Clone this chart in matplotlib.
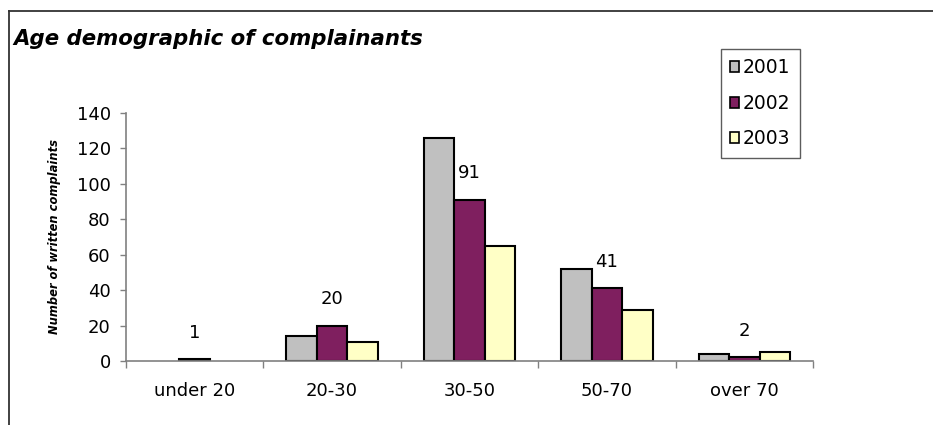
import matplotlib
matplotlib.use("Agg")
import matplotlib.pyplot as plt
from matplotlib.lines import Line2D
from matplotlib.patches import Patch
import numpy as np

# Data
age_groups = ["under 20", "20-30", "30-50", "50-70", "over 70"]
years = ["2001", "2002", "2003"]
complaints_2001 = [0, 14, 126, 52, 4]
complaints_2002 = [1, 20, 91, 41, 2]
complaints_2003 = [0, 11, 65, 29, 5]
series = [complaints_2001, complaints_2002, complaints_2003]
colors = ["#C0C0C0", "#7F1F5F", "#FFFFC6"]

W, H = 933, 425
fig = plt.figure(figsize=(W / 100, H / 100), dpi=100)

# Outer frame (top and left edges)
fig.add_artist(Line2D([9 / W, 1.0], [1 - 10.5 / H, 1 - 10.5 / H],
                      transform=fig.transFigure, color="#333333", lw=1.3))
fig.add_artist(Line2D([9 / W, 9 / W], [1 - 10.5 / H, 0.0],
                      transform=fig.transFigure, color="#333333", lw=1.3))

left, right = 126 / W, 813 / W
bottom, top = 1 - 361 / H, 1 - 113 / H
ax = fig.add_axes([left, bottom, right - left, top - bottom])

x = np.arange(len(age_groups))
width = 1 / 1.5 / 3
for i, (vals, c, yr) in enumerate(zip(series, colors, years)):
    b = ax.bar(x + (i - 1) * width, vals, width, color=c, edgecolor="black",
               linewidth=1.5, label=yr, zorder=3)
    # empty categories get no bar at all
    for patch, v in zip(b.patches, vals):
        if v == 0:
            patch.set_visible(False)

# Value labels above the 2002 bars
for xi, v in zip(x, complaints_2002):
    ax.annotate(str(v), (xi, v), xytext=(0, 19), textcoords="offset points",
                ha="center", va="center", fontsize=13, family="DejaVu Sans")

ax.set_xlim(-0.5, len(age_groups) - 0.5)
ax.set_ylim(0, 140)
ax.set_yticks(range(0, 141, 20))
ax.tick_params(axis="y", labelsize=13, length=4, width=1, color="#808080", pad=7)

ax.set_xticks(np.arange(-0.5, len(age_groups), 1.0))
ax.set_xticklabels([])
ax.set_xticks(x, minor=True)
ax.set_xticklabels(age_groups, minor=True)
ax.tick_params(axis="x", which="major", length=5, width=1, color="#808080")
ax.tick_params(axis="x", which="minor", length=0, labelsize=13, pad=15)

for s in ["top", "right"]:
    ax.spines[s].set_visible(False)
for s in ["left", "bottom"]:
    ax.spines[s].set_color("#808080")
    ax.spines[s].set_linewidth(1.2)
    ax.spines[s].set_zorder(4)

fig.text(55 / W, 1 - 237 / H, "Number of written complaints", rotation=90,
         ha="center", va="center", fontsize=8.3, fontstyle="italic",
         fontweight="bold")

fig.text(13 / W, 1 - 39 / H, "Age demographic of complainants", ha="left",
         va="center", fontsize=15.3, fontstyle="italic", fontweight="bold")

handles = [Patch(facecolor=c, edgecolor="black", linewidth=1.2) for c in colors]
leg = fig.legend(handles=handles, labels=years,
                 loc="upper left", bbox_to_anchor=(720.5 / W, 1 - 49 / H),
                 borderaxespad=0, fontsize=13.5, frameon=True, fancybox=False,
                 shadow=False, handlelength=0.5, handleheight=0.5,
                 handletextpad=0.2, labelspacing=0.88, borderpad=0.5)
leg.get_frame().set_edgecolor("#333333")
leg.get_frame().set_linewidth(1.0)

fig.savefig("out.png", dpi=100)
